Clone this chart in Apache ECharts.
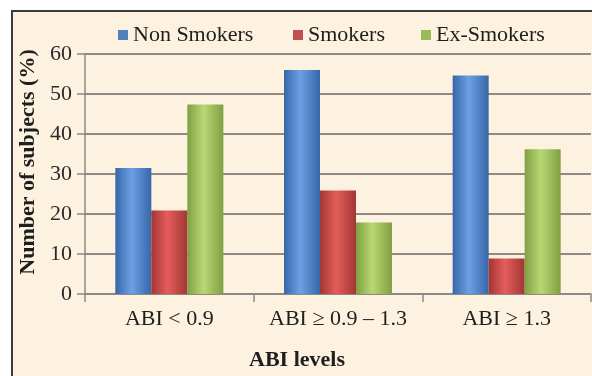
<!DOCTYPE html>
<html>
<head>
<meta charset="utf-8">
<script src="https://cdn.jsdelivr.net/npm/echarts@6/dist/echarts.min.js"></script>
<style>
  html, body { margin: 0; padding: 0; background: #ffffff; }
  #chart { width: 592px; height: 376px; }
</style>
</head>
<body>
<div id="chart"></div>
<script>
// ABI level categories and the share of subjects (%) in each smoking group
const categories = ['ABI < 0.9', 'ABI \u2265 0.9 \u2013 1.3', 'ABI \u2265 1.3'];
const nonSmokers = [31.5, 56, 54.6];
const smokers = [20.9, 25.9, 8.9];
const exSmokers = [47.4, 17.9, 36.2];
const yTicks = [0, 10, 20, 30, 40, 50, 60];

const SERIF = '"Liberation Serif", "DejaVu Serif", serif';
const FLAT = { 'Non Smokers': '#4f81bd', 'Smokers': '#c0504d', 'Ex-Smokers': '#9bbb59' };

// cylinder-like shading across each bar
function shade(edge, mid) {
  return new echarts.graphic.LinearGradient(0, 0, 1, 0, [
    { offset: 0, color: edge },
    { offset: 0.45, color: mid },
    { offset: 1, color: edge }
  ]);
}

// one legend block per series so each key sits where it should
function legendAt(name, left) {
  return {
    left: left,
    top: 19,
    itemWidth: 10,
    itemHeight: 10,
    icon: 'rect',
    textStyle: { fontFamily: SERIF, fontSize: 22, color: '#1e1e1e' },
    data: [{ name: name, itemStyle: { color: FLAT[name] } }]
  };
}

const chart = echarts.init(document.getElementById('chart'), null, { renderer: 'canvas' });

chart.setOption({
  animation: false,
  graphic: [{
    type: 'rect',
    z: -10,
    shape: { x: 12, y: 11, width: 600, height: 400 },
    style: { fill: '#fcf2df', stroke: '#3a3a3a', lineWidth: 2 }
  }],
  legend: [
    legendAt('Non Smokers', 113),
    legendAt('Smokers', 288),
    legendAt('Ex-Smokers', 416)
  ],
  grid: { left: 85, right: 1, top: 54, bottom: 79, containLabel: false },
  xAxis: {
    type: 'category',
    data: categories,
    name: 'ABI levels',
    nameLocation: 'middle',
    nameGap: 55,
    nameTextStyle: { fontFamily: SERIF, fontSize: 22, fontWeight: 'bold', color: '#1e1e1e', padding: [0, 82, 0, 0] },
    axisLine: { lineStyle: { color: '#8a8a8a', width: 1.5 } },
    axisTick: { show: true, length: 8, lineStyle: { color: '#8a8a8a', width: 1.5 } },
    axisLabel: { interval: 0, hideOverlap: false, fontFamily: SERIF, fontSize: 22, color: '#1e1e1e', margin: 14 }
  },
  yAxis: {
    type: 'value',
    min: yTicks[0],
    max: yTicks[yTicks.length - 1],
    interval: 10,
    name: 'Number of subjects (%)',
    nameLocation: 'middle',
    nameGap: 46,
    nameTextStyle: { fontFamily: SERIF, fontSize: 22, fontWeight: 'bold', color: '#1e1e1e', padding: [0, 0, 0, 24] },
    axisLine: { show: true, lineStyle: { color: '#8a8a8a', width: 1.5 } },
    axisTick: { show: true, length: 8, lineStyle: { color: '#8a8a8a', width: 1.5 } },
    axisLabel: { fontFamily: SERIF, fontSize: 22, color: '#2a2a2a', margin: 13 },
    splitLine: { lineStyle: { color: '#8f8a84', width: 2 } }
  },
  series: [
    {
      name: 'Non Smokers', type: 'bar', data: nonSmokers,
      barWidth: 36, barGap: '0%',
      itemStyle: { color: shade('#3767a8', '#6c9fe6') }
    },
    {
      name: 'Smokers', type: 'bar', data: smokers,
      barWidth: 36, barGap: '0%',
      itemStyle: { color: shade('#a23634', '#e45d5a') }
    },
    {
      name: 'Ex-Smokers', type: 'bar', data: exSmokers,
      barWidth: 36, barGap: '0%',
      itemStyle: { color: shade('#7f9f43', '#b9d873') }
    }
  ]
});
</script>
</body>
</html>
